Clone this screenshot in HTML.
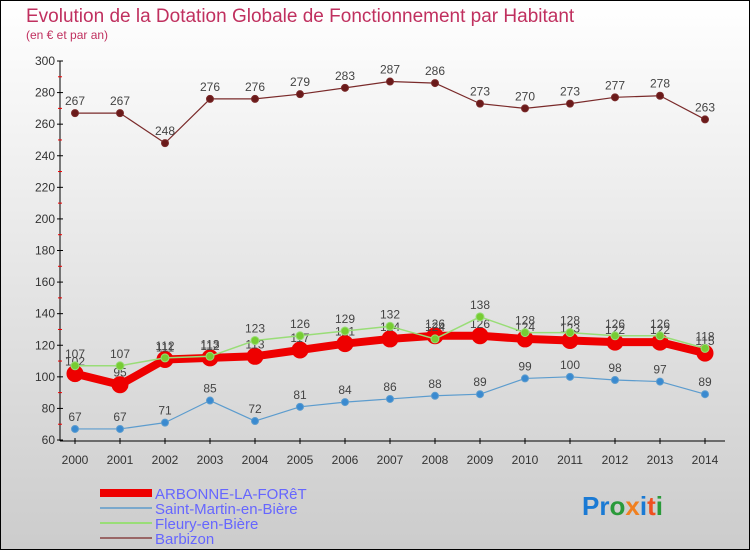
<!DOCTYPE html>
<html><head><meta charset="utf-8"><style>
html,body{margin:0;padding:0}
body{width:750px;height:550px;overflow:hidden;font-family:"Liberation Sans",sans-serif}
</style></head><body>
<svg id="chart" width="750" height="550" xmlns="http://www.w3.org/2000/svg">
<defs><linearGradient id="bg" x1="0" y1="0" x2="0" y2="1"><stop offset="0" stop-color="#ffffff"/><stop offset="1" stop-color="#cccccc"/></linearGradient></defs>
<rect x="0.5" y="0.5" width="749" height="549" fill="url(#bg)" stroke="#000"/>
<text x="26" y="22" font-size="19" fill="#c0305f">Evolution de la Dotation Globale de Fonctionnement par Habitant</text>
<text x="26" y="39" font-size="12" fill="#c0305f">(en € et par an)</text>
<g id="axes"></g><g id="series"></g>
<g>
<rect x="100" y="489" width="52" height="8" fill="#ee0000"/>
<text x="155" y="499" font-size="15" fill="#6666ff">ARBONNE-LA-FORêT</text>
<line x1="100" y1="508" x2="152" y2="508" stroke="#7aa8cc" stroke-width="2"/>
<text x="155" y="514" font-size="15" fill="#6666ff">Saint-Martin-en-Bière</text>
<line x1="100" y1="523" x2="152" y2="523" stroke="#99dd77" stroke-width="2"/>
<text x="155" y="529" font-size="15" fill="#6666ff">Fleury-en-Bière</text>
<line x1="100" y1="538" x2="152" y2="538" stroke="#996666" stroke-width="2"/>
<text x="155" y="544" font-size="15" fill="#6666ff">Barbizon</text>
</g>
<text x="582" y="515" font-size="26" font-weight="bold"><tspan fill="#1a7ad4">Pr</tspan><tspan fill="#2a9a3a">o</tspan><tspan fill="#f08020">x</tspan><tspan fill="#1a7ad4">i</tspan><tspan fill="#f05020">t</tspan><tspan fill="#2a9a3a">i</tspan></text>
</svg>
<script>
const years=[2000,2001,2002,2003,2004,2005,2006,2007,2008,2009,2010,2011,2012,2013,2014];
const yTicks=[60,80,100,120,140,160,180,200,220,240,260,280,300];
const barbizon=[267,267,248,276,276,279,283,287,286,273,270,273,277,278,263];
const saintMartin=[67,67,71,85,72,81,84,86,88,89,99,100,98,97,89];
const fleury=[107,107,112,113,123,126,129,132,124,138,128,128,126,126,118];
const arbonne=[102,95,111,112,113,117,121,124,126,126,124,123,122,122,115];
const NS="http://www.w3.org/2000/svg";
const X=i=>75+i*45, Y=v=>440-(v-60)*379/240;
function mk(t,a,p){const e=document.createElementNS(NS,t);for(const k in a)e.setAttribute(k,a[k]);p.appendChild(e);return e;}
const ax=document.getElementById('axes'), sg=document.getElementById('series');
let e=mk('line',{x1:60,y1:61,x2:60,y2:441,stroke:'#000'},ax);


e=mk('line',{x1:60,y1:441,x2:725,y2:441,stroke:'#000'},ax);


yTicks.forEach((v,i)=>{const y=Y(v);
 mk('line',{x1:57,y1:y,x2:63,y2:y,stroke:'#000'},ax);
 if(i<yTicks.length-1)mk('line',{x1:58,y1:Y(v+10),x2:62,y2:Y(v+10),stroke:'#e00'},ax);
 const t=mk('text',{x:55,y:y+4,'font-size':12,'text-anchor':'end',fill:'#333'},ax);t.textContent=v;
 
 });
years.forEach((yr,i)=>{const x=X(i);
 mk('line',{x1:x,y1:438,x2:x,y2:444,stroke:'#000'},ax);
 const t=mk('text',{x:x,y:464,'font-size':12,'text-anchor':'middle',fill:'#333'},ax);t.textContent=yr;
 
 });
function series(data,name,color,w,r,dot){
 const g=mk('g',{},sg);
 
 
 mk('polyline',{points:data.map((v,i)=>X(i)+','+Y(v)).join(' '),fill:'none',stroke:color,'stroke-width':w,'stroke-linejoin':'round'},g);
 data.forEach((v,i)=>{const c=mk('circle',{cx:X(i),cy:Y(v),r:r,fill:dot,stroke:color,'stroke-width':1},g);
  
  
  const t=mk('text',{x:X(i),y:Y(v)-8,'font-size':12,'text-anchor':'middle',fill:'#444'},g);t.textContent=v;
  
  });
}
series(barbizon,'barbizon','#7a2a2a',1.2,3.5,'#6a1a1a');
series(saintMartin,'saint-martin','#5c9cce',1.2,3.5,'#3a8ad0');
series(arbonne,'arbonne','#ee0000',8,8,'#ee0000');
series(fleury,'fleury','#99dd77',1.5,4,'#77cc33');
</script>
</body></html>
